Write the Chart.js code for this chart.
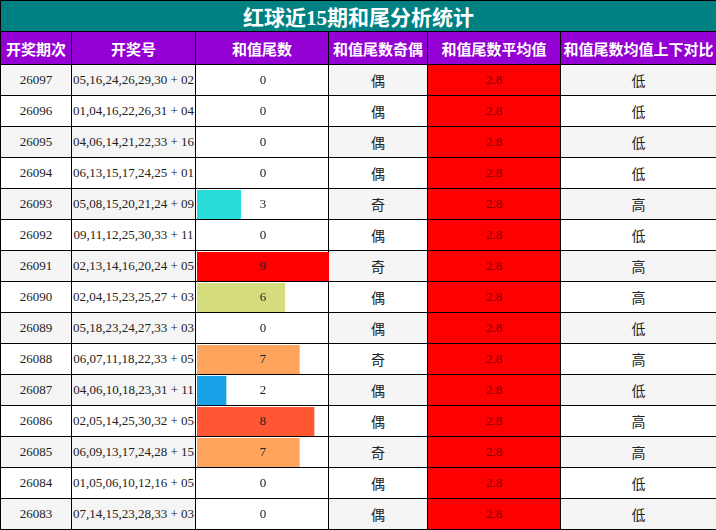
<!DOCTYPE html>
<html><head><meta charset="utf-8">
<script src="https://cdn.jsdelivr.net/npm/chart.js@4/dist/chart.umd.min.js"></script>
<style>
body{margin:0;background:#fff;font-family:"Liberation Serif","Noto Sans CJK SC",serif;}
#wrap{position:relative;width:716px;height:530px;overflow:hidden;}
table{border-collapse:collapse;table-layout:fixed;width:716px;position:absolute;left:0;top:0;}
td,th{border:1px solid #000;text-align:center;padding:0;font-size:13px;color:#222;}
.title{background:#008080;color:#fff;font-size:21px;font-weight:bold;height:28px;}
th{background:#9400D3;color:#fff;font-size:15px;height:32px;font-family:"Noto Sans CJK SC",sans-serif;}
td{height:30px;}
tr.g td{background:#f5f5f5;}
td.cn{font-family:"Noto Sans CJK SC",sans-serif;font-size:14px;}
tr td.avg{background:#ff0000;color:#700;}
tr td.bar{background:transparent;}
#cv{position:absolute;pointer-events:none;}
</style></head><body>
<div id="wrap">
<table id="tb">
<colgroup><col style="width:71px"><col style="width:124px"><col style="width:133px"><col style="width:99px"><col style="width:133px"><col style="width:156px"></colgroup>
<tr><td colspan="6" class="title">红球近15期和尾分析统计</td></tr>
<tr><th>开奖期次</th><th>开奖号</th><th>和值尾数</th><th>和值尾数奇偶</th><th>和值尾数平均值</th><th>和值尾数均值上下对比</th></tr>
</table>
<div id="cv"><canvas id="c"></canvas></div>
</div>
<script>
var periods=["26097","26096","26095","26094","26093","26092","26091","26090","26089","26088","26087","26086","26085","26084","26083"];
var draws=["05,16,24,26,29,30 + 02","01,04,16,22,26,31 + 04","04,06,14,21,22,33 + 16","06,13,15,17,24,25 + 01","05,08,15,20,21,24 + 09","09,11,12,25,30,33 + 11","02,13,14,16,20,24 + 05","02,04,15,23,25,27 + 03","05,18,23,24,27,33 + 03","06,07,11,18,22,33 + 05","04,06,10,18,23,31 + 11","02,05,14,25,30,32 + 05","06,09,13,17,24,28 + 15","01,05,06,10,12,16 + 05","07,14,15,23,28,33 + 03"];
var tails=[0,0,0,0,3,0,9,6,0,7,2,8,7,0,0];
var parity=["偶","偶","偶","偶","奇","偶","奇","偶","偶","奇","偶","偶","奇","偶","偶"];
var avgs=[2.8,2.8,2.8,2.8,2.8,2.8,2.8,2.8,2.8,2.8,2.8,2.8,2.8,2.8,2.8];
var compare=["低","低","低","低","高","低","高","高","低","高","低","高","高","低","低"];
var tailColors={0:"#ffffff",2:"#17a2e8",3:"#2adcdc",6:"#d4dc7c",7:"#ffa45c",8:"#ff5733",9:"#ff0000"};

var tb=document.getElementById("tb");
for(var i=0;i<periods.length;i++){
    var tr=document.createElement("tr");
    if(i%2==0) tr.className="g";
    tr.innerHTML="<td>"+periods[i]+"</td><td>"+draws[i]+"</td><td class='bar'></td><td class='cn'>"+parity[i]+"</td><td class='avg'>"+avgs[i]+"</td><td class='cn'>"+compare[i]+"</td>";
    tb.appendChild(tr);
}
// place the chart over the 和值尾数 column
var first=tb.rows[2].cells[2].getBoundingClientRect();
var last=tb.rows[tb.rows.length-1].cells[2].getBoundingClientRect();
var cv=document.getElementById("cv");
cv.style.left=(first.left+1)+"px";
cv.style.top=first.top+"px";
cv.style.width=(first.width-1)+"px";
cv.style.height=(last.bottom-first.top)+"px";

var labelPlugin={
    id:"lbl",
    afterDatasetsDraw:function(chart){
        var ctx=chart.ctx,meta=chart.getDatasetMeta(0),xs=chart.scales.x;
        ctx.save();
        ctx.font="13px 'Liberation Serif'";
        ctx.fillStyle="#222";
        ctx.textAlign="center";ctx.textBaseline="middle";
        meta.data.forEach(function(b,k){
            ctx.fillText(tails[k],(xs.left+xs.right)/2,b.y);
        });
        ctx.restore();
    }
};
new Chart(document.getElementById("c").getContext("2d"),{
    type:"bar",
    data:{
        labels:periods,
        datasets:[{
            data:tails,
            backgroundColor:tails.map(function(t){return tailColors[t];}),
            barPercentage:0.94,
            categoryPercentage:1
        }]
    },
    options:{
        indexAxis:"y",
        responsive:true,
        maintainAspectRatio:false,
        animation:false,
        layout:{padding:0},
        plugins:{legend:{display:false},tooltip:{enabled:false}},
        scales:{
            x:{min:0,max:9,display:false},
            y:{display:false}
        }
    },
    plugins:[labelPlugin]
});
</script>
</body></html>
